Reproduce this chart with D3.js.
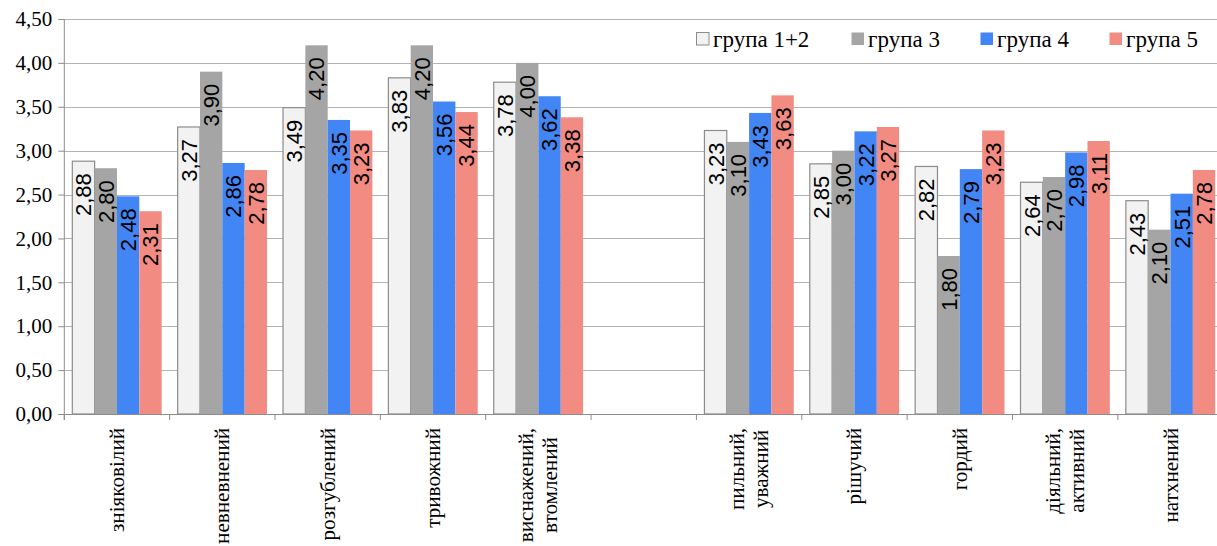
<!DOCTYPE html>
<html>
<head>
<meta charset="utf-8">
<script src="https://cdn.jsdelivr.net/npm/d3@7"></script>
<style>
  html, body { margin: 0; padding: 0; background: #fff; }
  svg { display: block; }
</style>
</head>
<body>
<svg id="chart" width="1217" height="546"></svg>
<script>
// Categories (each entry is a list of label lines; the empty slot separates the two blocks)
const categories = [
  ["зніяковілий"],
  ["невневнений"],
  ["розгублений"],
  ["тривожний"],
  ["виснажений,", "втомлений"],
  [],
  ["пильний,", "уважний"],
  ["рішучий"],
  ["гордий"],
  ["діяльний,", "активний"],
  ["натхнений"]
];

const seriesNames = ["група 1+2", "група 3", "група 4", "група 5"];

const group12 = [2.88, 3.27, 3.49, 3.83, 3.78, null, 3.23, 2.85, 2.82, 2.64, 2.43];
const group3  = [2.80, 3.90, 4.20, 4.20, 4.00, null, 3.10, 3.00, 1.80, 2.70, 2.10];
const group4  = [2.48, 2.86, 3.35, 3.56, 3.62, null, 3.43, 3.22, 2.79, 2.98, 2.51];
const group5  = [2.31, 2.78, 3.23, 3.44, 3.38, null, 3.63, 3.27, 3.23, 3.11, 2.78];

const yTicks = [0, 0.5, 1, 1.5, 2, 2.5, 3, 3.5, 4, 4.5];

const seriesValues = [group12, group3, group4, group5];
const fills   = ["#f2f2f2", "#a5a5a5", "#4285f4", "#f28b82"];
const strokes = ["#8c8c8c", "none", "none", "none"];

const fmt = v => d3.format(".2f")(v).replace(".", ",");

const svg = d3.select("#chart");
const W = 1217, H = 546;
const plot = { left: 64.3, right: 1223.2, top: 19, bottom: 414 };

const idx = categories.map((_, i) => i);
const x = d3.scaleBand().domain(idx).range([plot.left, plot.right]).padding(0);
const step = x.bandwidth();
const xInner = d3.scaleBand().domain(d3.range(seriesNames.length))
  .range([step * 0.076, step * (1 - 0.076)]).padding(0);
const y = d3.scaleLinear().domain([0, 4.5]).range([plot.bottom, plot.top]);

// Horizontal gridlines
svg.append("g")
  .selectAll("line")
  .data(yTicks.filter(t => t > 0))
  .join("line")
  .attr("x1", plot.left).attr("x2", W)
  .attr("y1", d => Math.round(y(d)) + 0.5).attr("y2", d => Math.round(y(d)) + 0.5)
  .attr("stroke", "#b3b3b3").attr("stroke-width", 1);

// Bars
const groups = svg.append("g").selectAll("g")
  .data(idx)
  .join("g")
  .attr("transform", i => `translate(${x(i)},0)`);

const barData = i => seriesValues.map((vals, s) => ({ s, v: vals[i] })).filter(d => d.v != null);

groups.selectAll("rect")
  .data(barData)
  .join("rect")
  .attr("x", d => xInner(d.s))
  .attr("y", d => y(d.v))
  .attr("width", xInner.bandwidth())
  .attr("height", d => y(0) - y(d.v))
  .attr("fill", d => fills[d.s])
  .attr("stroke", d => strokes[d.s])
  .attr("stroke-width", 1.2);

// Value labels, rotated inside the top of each bar
groups.selectAll("text.val")
  .data(barData)
  .join("text")
  .attr("class", "val")
  .attr("transform", d => `translate(${xInner(d.s) + xInner.bandwidth() / 2},${y(d.v) + 12}) rotate(-90)`)
  .attr("text-anchor", "end")
  .attr("dy", "0.36em")
  .attr("font-family", "'Liberation Sans Narrow', 'Liberation Sans', sans-serif")
  .attr("font-size", 22)
  .attr("fill", "#000")
  .text(d => fmt(d.v));

// Y axis
const yAxis = svg.append("g")
  .attr("transform", `translate(${plot.left},0)`)
  .call(d3.axisLeft(y).tickValues(yTicks).tickSize(6).tickPadding(6).tickFormat(fmt));
yAxis.select(".domain").attr("stroke", "#8c8c8c").attr("d", `M0,${plot.top}V${plot.bottom + 6}`);
yAxis.selectAll(".tick line").attr("stroke", "#8c8c8c");
yAxis.selectAll(".tick text")
  .attr("font-family", "'Liberation Serif', 'Times New Roman', serif")
  .attr("font-size", 21)
  .attr("fill", "#000");

// X axis baseline with ticks at slot boundaries
const xAxis = svg.append("g");
xAxis.append("line")
  .attr("x1", plot.left - 6).attr("x2", W)
  .attr("y1", plot.bottom + 0.5).attr("y2", plot.bottom + 0.5)
  .attr("stroke", "#8c8c8c");
xAxis.selectAll("line.tk")
  .data(d3.range(categories.length + 1))
  .join("line")
  .attr("class", "tk")
  .attr("x1", i => (i < categories.length ? x(i) : plot.right))
  .attr("x2", i => (i < categories.length ? x(i) : plot.right))
  .attr("y1", plot.bottom).attr("y2", plot.bottom + 6)
  .attr("stroke", "#8c8c8c");

// Category labels, rotated, lines centred within the block.
// The font size is reduced uniformly if the longest label would run past the bottom edge.
const lineGap = 24;
const labelTop = 428;
const baseSize = 22;
const labelGroups = [];
categories.forEach((lines, i) => {
  if (!lines.length) return;
  const cx = x(i) + step / 2;
  const g = xAxis.append("g");
  const texts = lines.map((ln, k) => g.append("text")
    .attr("font-family", "'Liberation Serif', 'Times New Roman', serif")
    .attr("font-size", baseSize)
    .attr("fill", "#000")
    .attr("dominant-baseline", "central")
    .attr("text-anchor", "middle")
    .text(ln));
  labelGroups.push({ cx, texts });
});
const longest = d3.max(labelGroups, lg => d3.max(lg.texts, t => t.node().getComputedTextLength()));
const room = H - 2 - labelTop;
const labelSize = Math.min(baseSize, baseSize * room / longest);
labelGroups.forEach(({ cx, texts }) => {
  texts.forEach(t => t.attr("font-size", labelSize));
  const maxLen = d3.max(texts, t => t.node().getComputedTextLength());
  texts.forEach((t, k) => {
    const off = (k - (texts.length - 1) / 2) * lineGap;
    t.attr("transform", `translate(${cx + off},${labelTop + maxLen / 2}) rotate(-90)`);
  });
});

// Legend
const legend = svg.append("g");
const legendX = [696, 851, 980, 1109];
seriesNames.forEach((name, s) => {
  const g = legend.append("g").attr("transform", `translate(${legendX[s]},32)`);
  g.append("rect")
    .attr("x", 0.5).attr("y", 0.5)
    .attr("width", 12.5).attr("height", 12.5)
    .attr("fill", fills[s])
    .attr("stroke", s === 0 ? "#8c8c8c" : "none");
  g.append("text")
    .attr("x", 17).attr("y", 7)
    .attr("dominant-baseline", "central")
    .attr("font-family", "'Liberation Serif', 'Times New Roman', serif")
    .attr("font-size", 23)
    .attr("fill", "#000")
    .text(name);
});
</script>
</body>
</html>
